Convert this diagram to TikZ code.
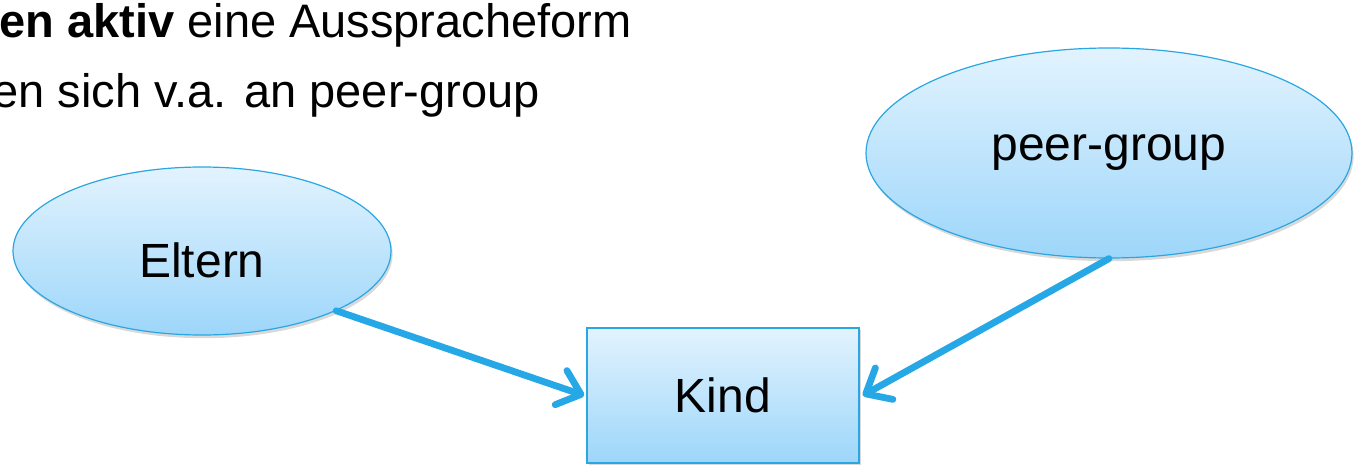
\documentclass[tikz,border=0pt]{standalone}
\usepackage{fontspec}
\setmainfont{Liberation Sans}
\usetikzlibrary{shapes.geometric,arrows.meta,shadows}
\definecolor{edgeblue}{HTML}{2AA6E2}
\definecolor{arrowblue}{HTML}{27A8E6}
\definecolor{filltop}{HTML}{E2F3FE}
\definecolor{fillbot}{HTML}{9DD6FA}
\tikzset{
  bubble/.style={ellipse, draw=edgeblue, line width=0.6pt, top color=filltop, bottom color=fillbot,
    inner sep=0pt, font=\fontsize{24}{28}\selectfont,
    drop shadow={shadow xshift=0.8pt, shadow yshift=-1.6pt, opacity=0.25, fill=black!60}},
  kidbox/.style={rectangle, draw=edgeblue, line width=0.8pt, top color=filltop, bottom color=fillbot,
    inner sep=0pt, minimum width=136pt, minimum height=67.5pt, font=\fontsize{24}{28}\selectfont,
    drop shadow={shadow xshift=0.8pt, shadow yshift=-1.2pt, opacity=0.25, fill=black!60}},
  flow/.style={draw=arrowblue, line width=3.4pt, line cap=round,
    -{Straight Barb[round, length=10.5pt, width=18pt]}},
  toptext/.style={font=\fontsize{23.5}{28}\selectfont, inner sep=0pt}
}
\begin{document}
\begin{tikzpicture}[x=0.5pt, y=-0.5pt]
\useasboundingbox (0,0) rectangle (1354,465);
\clip (0,0) rectangle (1354,465);
\node[toptext, anchor=base east] (line1) at (632,38) {\textbf{en aktiv} eine Ausspracheform};
\node[toptext, anchor=base east] (line2) at (540,108) {en sich v.a. an peer-group};
\node[bubble, minimum width=189pt, minimum height=84pt, text height=26pt, text depth=0pt] (eltern) at (202,251) {Eltern};
\node[bubble, minimum width=243pt, minimum height=105pt] (peer) at (1109,153) {peer-group};
\node[kidbox] (kind) at (723,395.5) {Kind};
\draw[flow] (eltern.-24.6) -- ([xshift=-1pt]kind.west);
\draw[flow] (peer.south) -- ([xshift=1.5pt]kind.east);
\end{tikzpicture}
\end{document}
